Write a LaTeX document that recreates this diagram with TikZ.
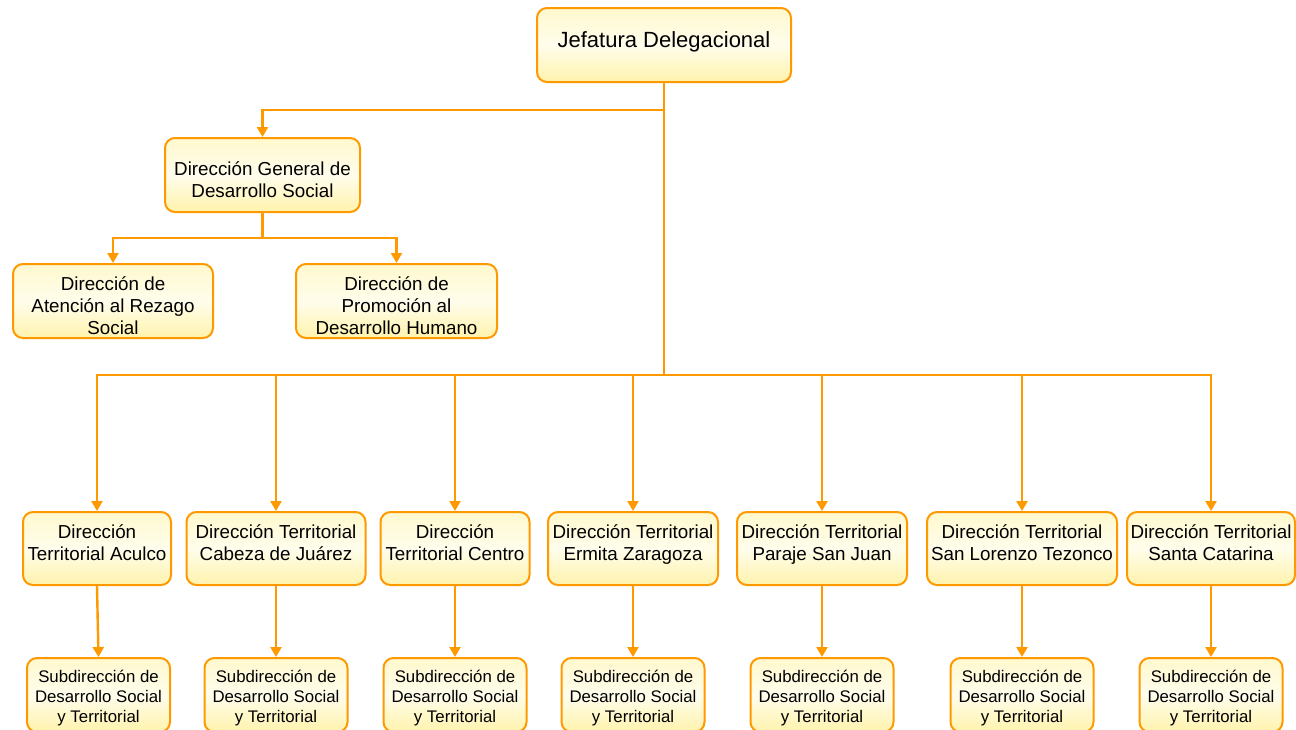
\documentclass[tikz,border=0pt]{standalone}
\usepackage{fontspec}
\setmainfont{Liberation Sans}
\usetikzlibrary{arrows.meta}
\definecolor{org}{RGB}{255,153,0}
\definecolor{ytop}{RGB}{255,248,205}
\definecolor{ymid}{RGB}{255,253,236}
\definecolor{ybot}{RGB}{255,243,172}
\tikzset{
  box/.style={draw=org, line width=2pt, rounded corners=10pt,
    top color=ytop, bottom color=ybot, middle color=ymid, inner sep=0pt},
  conn/.style={draw=org, line width=2.4pt},
  arr/.style={conn, -{Triangle[width=11pt,length=10pt]}},
  txt/.style={anchor=north, align=center, inner sep=0pt, text=black},
  big/.style={txt, font=\fontsize{22}{25}\selectfont},
  mid/.style={txt, font=\fontsize{18.8}{22}\selectfont},
  small/.style={txt, font=\fontsize{16.8}{20}\selectfont},
}
\begin{document}
\begin{tikzpicture}[x=1pt,y=-1pt]
\useasboundingbox (0,0) rectangle (1296,729);

% top levels
\node[box, minimum width=254pt, minimum height=74pt] (jef) at (664,45) {};
\node[big] (jefT) at (664,31) {Jefatura Delegacional};

\node[box, minimum width=195pt, minimum height=74pt] (dg) at (262.5,175) {};
\node[mid] (dgT) at (262.5,161.5) {Dirección General de\\Desarrollo Social};

\node[box, minimum width=200pt, minimum height=74pt] (at) at (113,301) {};
\node[mid] (atT) at (113,276) {Dirección de\\Atención al Rezago\\Social};

\node[box, minimum width=201pt, minimum height=74pt] (pr) at (396.5,301) {};
\node[mid] (prT) at (396.5,276) {Dirección de\\Promoción al\\Desarrollo Humano};

% territorial row
\node[box, minimum width=148pt, minimum height=73pt] (t1) at (97,548.5) {};
\node[mid] (t1T) at (97,524) {Dirección\\Territorial Aculco};
\node[box, minimum width=179pt, minimum height=73pt] (t2) at (276,548.5) {};
\node[mid] (t2T) at (276,524) {Dirección Territorial\\Cabeza de Juárez};
\node[box, minimum width=149pt, minimum height=73pt] (t3) at (455,548.5) {};
\node[mid] (t3T) at (455,524) {Dirección\\Territorial Centro};
\node[box, minimum width=170pt, minimum height=73pt] (t4) at (633,548.5) {};
\node[mid] (t4T) at (633,524) {Dirección Territorial\\Ermita Zaragoza};
\node[box, minimum width=170pt, minimum height=73pt] (t5) at (822,548.5) {};
\node[mid] (t5T) at (822,524) {Dirección Territorial\\Paraje San Juan};
\node[box, minimum width=190pt, minimum height=73pt] (t6) at (1022,548.5) {};
\node[mid] (t6T) at (1022,524) {Dirección Territorial\\San Lorenzo Tezonco};
\node[box, minimum width=168pt, minimum height=73pt] (t7) at (1211,548.5) {};
\node[mid] (t7T) at (1211,524) {Dirección Territorial\\Santa Catarina};

% sub row
\foreach \i/\x in {1/98.5,2/276,3/455,4/633,5/822,6/1022,7/1211}{
  \node[box, minimum width=143pt, minimum height=74pt] (s\i) at (\x,695) {};
  \node[small] (s\i T) at (\x,670) {Subdirección de\\Desarrollo Social\\y Territorial};
}

% connectors
\coordinate (j1) at (664,110);
\coordinate (bus) at (664,375);
\coordinate (dgb) at (262.5,238);
\draw[conn] (jef.south) -- (bus);
\draw[arr] (j1) -| (dg.north);
\draw[conn] (dg.south) -- (dgb);
\draw[arr] (dgb) -| (at.north);
\draw[arr] (dgb) -| (pr.north);
\foreach \i in {1,...,7}{
  \draw[arr] (bus) -| (t\i.north);
  \draw[arr] (t\i.south) -- (s\i.north);
}
\end{tikzpicture}
\end{document}
